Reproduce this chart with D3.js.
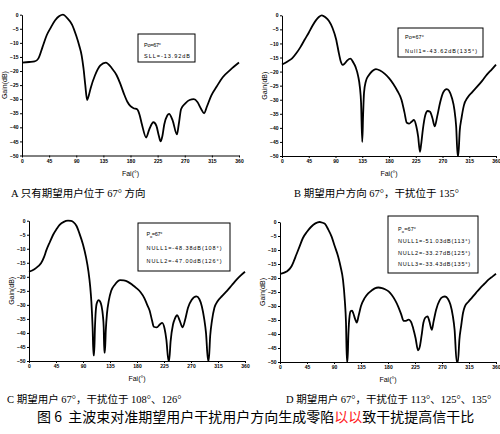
<!DOCTYPE html>
<html>
<head>
<meta charset="utf-8">
<script src="https://cdn.jsdelivr.net/npm/d3@7"></script>
<style>
  body { margin: 0; background: #fff; }
  svg { display: block; }
  .tick text { font-family: Arial, "Liberation Sans", sans-serif; font-size: 5px; font-weight: bold; }
  .lbl { font-family: Arial, "Liberation Sans", sans-serif; font-size: 7px; }
  .leg { font-family: Arial, "Liberation Sans", sans-serif; font-size: 5.5px; }
  .cap { font-family: "Liberation Serif", "Noto Sans CJK SC", serif; font-size: 10.5px; }
  .title { font-family: "Noto Sans CJK SC", sans-serif; font-size: 14px; }
</style>
</head>
<body>
<script>
// tick labels
var xTicks = [0, 45, 90, 135, 180, 225, 270, 315, 360];
var yTicks = [0, -5, -10, -15, -20, -25, -30, -35, -40, -45, -50];

// A: only the desired user at 67 deg
var degA  = [0, 12, 21, 27, 34, 41, 48, 55, 62, 68, 75, 83, 90, 95, 99, 102, 105, 108, 111, 114, 121, 130, 139, 149, 157, 163, 169, 175, 180, 185, 191, 195, 199, 206, 211, 218, 223, 227, 230, 233, 236, 241, 244, 250, 257, 260, 264, 271, 278, 285, 291, 297, 302, 307, 314, 323, 333, 346, 360];
var gainA = [-17, -16.8, -16.6, -15.6, -11.5, -7.3, -4.5, -2, -0.5, 0, -1.2, -3.5, -7.5, -11, -14.5, -19, -25, -30.3, -28.5, -26, -21.6, -18, -17, -19, -21.5, -24.5, -28, -31, -32.5, -33.2, -33.6, -35.5, -39, -43.6, -40.8, -38.2, -39.5, -43, -45, -43, -39, -35.8, -35.2, -37.6, -42.5, -39, -33.5, -31.5, -30.3, -30, -31, -33.4, -35, -32.5, -28.7, -25.5, -22.2, -19.5, -17];

// B: interference at 135 deg
var degB  = [0, 10, 17, 24, 31, 38, 45, 51, 57, 62, 67, 73, 79, 85, 91, 96, 99, 102, 106, 110, 115, 120, 124, 128, 131, 133, 135, 136.5, 138, 141, 146, 152, 158, 165, 173, 180, 187, 194, 201, 206, 210, 214, 218, 222, 226, 229, 232, 234, 237, 241, 245, 249, 253, 257, 261, 266, 271, 277, 281, 286, 290, 293, 295.5, 296.5, 299, 302, 306, 312, 320, 329, 337, 345, 353, 360];
var gainB = [-17.5, -16.3, -15.3, -13.5, -11.3, -8.7, -6.2, -3.8, -1.8, -0.6, 0, -0.7, -2, -4.5, -8.5, -13.8, -16.5, -17.6, -17, -16, -15.4, -16.8, -18.5, -21.5, -25.5, -31, -45, -35, -27.5, -23.5, -21.3, -19.8, -19.1, -19.6, -20.8, -22.3, -24.3, -26.8, -30, -34.5, -38.2, -38.5, -37.8, -37.2, -39.5, -43, -48.5, -46, -40.5, -35.5, -34, -34.3, -36.5, -39.5, -36, -31, -27.5, -26.2, -26.8, -29.5, -33.5, -39.5, -50, -50, -41, -36.5, -32, -29.3, -27.3, -25.2, -23.2, -21, -19.2, -17.5];

// C: interference at 108 and 126 deg
var degC  = [0, 9, 15, 20, 25, 29, 35, 40, 46, 51, 58, 65, 70, 74, 79, 84, 90, 95, 99, 102, 104, 106, 107.5, 108.5, 110, 112, 114, 116, 118.5, 121, 123, 124.5, 125.5, 126.5, 128, 130, 133, 137, 143, 148, 152, 158, 165, 172, 179, 186, 192, 197, 201, 205, 208, 213, 218, 222, 226, 229, 232.5, 233.5, 236, 240, 243, 247, 251, 256, 260, 265, 271, 279, 284, 288, 292, 295, 298.5, 299.5, 302, 305, 309, 314, 322, 330, 338, 346, 353, 360];
var gainC = [-18.2, -17.3, -16.3, -15.2, -13, -10.5, -7.5, -5.1, -3, -1.5, -0.4, 0, -0.1, -0.5, -1.8, -4.5, -8.5, -13, -18, -23.5, -29, -38, -48, -48, -37.5, -30.5, -28.8, -28.3, -28.8, -30.5, -33.5, -38, -47, -47, -39, -33, -28.5, -25, -22.8, -21.6, -21.2, -21.3, -21.8, -22.8, -24, -25.5, -27.5, -30, -32, -35.5, -37.8, -38, -37, -36.4, -38.5, -42.5, -50, -50, -43, -37, -35, -33.7, -35.5, -38, -35.5, -31, -28.3, -27, -28, -30.5, -35, -40, -50, -50, -41, -35.5, -31, -28.8, -26.8, -25, -23, -21, -19.5, -18.2];

// D: interference at 113, 125 and 135 deg
var degD  = [0, 6, 11, 19, 23, 27, 33, 38, 45, 52, 59, 66, 70, 75, 80, 86, 91, 97, 101, 105, 108, 110, 111.5, 112.5, 114, 116, 118, 120, 122, 125, 128, 131, 135, 141, 147, 153, 158, 164, 170, 175, 181, 186, 192, 197, 202, 206, 210, 214, 218, 222, 226, 230, 233, 236, 239, 242, 246, 249, 253, 256, 260, 266, 271, 275, 280, 284, 288, 291, 294.5, 296.5, 299, 302, 305, 308, 314, 320, 327, 334, 341, 347, 354, 360];
var gainD = [-18.5, -18.2, -17.7, -15.9, -14, -11.8, -8.5, -5.8, -3.5, -1.7, -0.5, 0, -0.2, -0.7, -2.5, -5.2, -8.5, -12.4, -16, -20.7, -28, -36, -50, -50, -40, -33.5, -31.8, -31.7, -32.5, -34.5, -35.9, -33.5, -30, -27.2, -25.5, -24.4, -23.7, -23.4, -23.6, -24, -24.8, -26, -28, -30.2, -33, -35.3, -35.3, -34.9, -35.5, -38, -41.5, -45.8, -44.5, -40.5, -36, -34.2, -33.7, -35.5, -38.5, -35.5, -31.5, -28, -26.8, -26.6, -27.5, -29.5, -33.5, -38.5, -50, -50, -42, -37, -32.5, -30.2, -28.5, -27, -25.2, -23.5, -22, -20.7, -19.5, -18.5];

// legend lines ("_o" marks a subscript o)
var legendA = ["Po=67°", "SLL=-13.92dB"];
var legendB = ["Po=67°", "Null1=-43.62dB(135°)"];
var legendC = ["P_o=67°", "NULL1=-48.38dB(108°)", "NULL2=-47.00dB(126°)"];
var legendD = ["P_o=67°", "NULL1=-51.03dB(113°)", "NULL2=-33.27dB(125°)", "NULL3=-33.43dB(135°)"];

var captionA = "A 只有期望用户位于 67° 方向";
var captionB = "B 期望用户方向 67°，干扰位于 135°";
var captionC = "C 期望用户 67°，干扰位于 108°、126°";
var captionD = "D 期望用户 67°，干扰位于 113°、125°、135°";
var titleParts = ["图 6  主波束对准期望用户干扰用户方向生成零陷", "以以", "致干扰提高信干比"];

var W = 500, H = 434;
var svg = d3.select("body").append("svg").attr("width", W).attr("height", H);

// layout of the four panels
var panels = [
  {deg: degA, gain: gainA, legend: legendA, caption: captionA,
   x: [22, 239], y: [14.7, 155.5], box: [138, 34, 195, 62], legX: 144, legY: [47, 57.5], legW: [17, 46], cap: [11, 197]},
  {deg: degB, gain: gainB, legend: legendB, caption: captionB,
   x: [282, 496], y: [15.3, 156], box: [398, 28, 483, 57], legX: 405, legY: [38.5, 53], legW: [19, 72], cap: [294, 197]},
  {deg: degC, gain: gainC, legend: legendC, caption: captionC,
   x: [29, 245], y: [220.7, 361], box: [138, 223, 230, 271], legX: 146.5, legY: [236, 250, 262.5], legW: [16, 75, 75], cap: [7, 403]},
  {deg: degD, gain: gainD, legend: legendD, caption: captionD,
   x: [280, 496], y: [222, 362], box: [388, 216, 478, 273], legX: 398, legY: [231, 243, 255, 266], legW: [18, 72, 72, 72], cap: [286, 403]}
];

panels.forEach(function(p) {
  var xs = d3.scaleLinear().domain([0, 360]).range(p.x);
  var ys = d3.scaleLinear().domain([-50, 0]).range([p.y[1], p.y[0]]).clamp(true);
  var g = svg.append("g");

  g.append("g")
    .attr("transform", "translate(0," + p.y[1] + ")")
    .call(d3.axisBottom(xs).tickValues(xTicks).tickSize(2).tickSizeOuter(0).tickPadding(1.5));
  g.append("g")
    .attr("transform", "translate(" + p.x[0] + ",0)")
    .call(d3.axisLeft(ys).tickValues(yTicks).tickSize(2).tickSizeOuter(0).tickPadding(1.5));
  g.selectAll(".domain, .tick line").attr("stroke", "#000").attr("stroke-width", 1);

  g.append("text").attr("class", "lbl")
    .attr("transform", "translate(" + (p.x[0] - 15.5) + "," + ((p.y[0] + p.y[1]) / 2) + ") rotate(-90)")
    .attr("text-anchor", "middle")
    .text("Gain(dB)");
  g.append("text").attr("class", "lbl")
    .attr("x", (p.x[0] + p.x[1]) / 2).attr("y", p.y[1] + 20)
    .attr("text-anchor", "middle")
    .text("Fai(°)");

  var line = d3.line()
    .x(function(d, i) { return xs(p.deg[i]); })
    .y(function(d) { return ys(d); })
    .curve(d3.curveMonotoneX);
  g.append("path")
    .datum(p.gain)
    .attr("d", line)
    .attr("fill", "none")
    .attr("stroke", "#000")
    .attr("stroke-width", 1.8)
    .attr("stroke-linejoin", "round");

  /*legend box*/
  g.append("rect")
    .attr("x", p.box[0]).attr("y", p.box[1])
    .attr("width", p.box[2] - p.box[0]).attr("height", p.box[3] - p.box[1])
    .attr("fill", "#fff").attr("stroke", "#000").attr("stroke-width", 1);
  p.legend.forEach(function(s, i) {
    var t = g.append("text").attr("class", "leg")
      .attr("x", p.legX).attr("y", p.legY[i])
      .attr("textLength", p.legW[i]).attr("lengthAdjust", "spacing");
    if (s.indexOf("P_o") === 0) {
      t.append("tspan").text("P");
      t.append("tspan").attr("dy", 1.5).attr("font-size", "4px").text("o");
      t.append("tspan").attr("dy", -1.5).text(s.slice(3));
    } else {
      t.text(s);
    }
  });

  g.append("text").attr("class", "cap")
    .attr("x", p.cap[0]).attr("y", p.cap[1])
    .text(p.caption);
});

var title = svg.append("text").attr("class", "title").attr("x", 37).attr("y", 422)
  .attr("xml:space", "preserve").style("white-space", "pre");
titleParts.forEach(function(s, i) {
  title.append("tspan").attr("fill", i === 1 ? "#ff2020" : "#000").text(s);
});
</script>
</body>
</html>
